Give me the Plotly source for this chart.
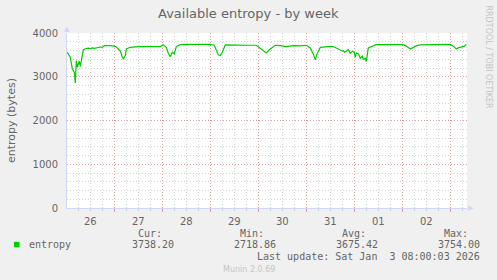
import plotly.graph_objects as go

# ---------------- data ----------------
times = [
    "2025-12-26 00:30", "2025-12-26 01:00", "2025-12-26 02:00", "2025-12-26 03:00", "2025-12-26 04:00",
    "2025-12-26 04:30", "2025-12-26 05:00", "2025-12-26 05:30", "2025-12-26 06:30", "2025-12-26 07:00",
    "2025-12-26 08:00", "2025-12-26 08:30", "2025-12-26 09:30", "2025-12-26 11:00", "2025-12-26 12:00",
    "2025-12-26 13:00", "2025-12-26 14:00", "2025-12-26 15:00", "2025-12-26 17:00", "2025-12-26 18:00",
    "2025-12-26 19:00", "2025-12-26 21:00", "2025-12-26 23:30",
    "2025-12-27 01:00", "2025-12-27 02:00", "2025-12-27 03:00", "2025-12-27 04:00", "2025-12-27 04:30",
    "2025-12-27 05:30", "2025-12-27 06:00", "2025-12-27 08:00", "2025-12-27 10:00", "2025-12-27 12:00",
    "2025-12-27 15:30", "2025-12-27 18:00", "2025-12-27 21:00", "2025-12-27 23:00",
    "2025-12-28 00:30", "2025-12-28 02:00", "2025-12-28 03:00", "2025-12-28 04:00", "2025-12-28 05:00",
    "2025-12-28 06:00", "2025-12-28 07:00", "2025-12-28 09:00", "2025-12-28 12:00", "2025-12-28 16:30",
    "2025-12-28 20:00",
    "2025-12-29 00:00", "2025-12-29 02:00", "2025-12-29 03:00", "2025-12-29 04:00", "2025-12-29 05:00",
    "2025-12-29 06:00", "2025-12-29 07:30", "2025-12-29 11:00", "2025-12-29 15:00", "2025-12-29 19:00",
    "2025-12-29 23:00",
    "2025-12-30 01:30", "2025-12-30 03:00", "2025-12-30 04:00", "2025-12-30 06:00", "2025-12-30 08:30",
    "2025-12-30 11:00", "2025-12-30 14:00", "2025-12-30 17:30", "2025-12-30 21:00",
    "2025-12-31 00:00", "2025-12-31 02:00", "2025-12-31 03:30", "2025-12-31 04:30", "2025-12-31 05:00",
    "2025-12-31 07:00", "2025-12-31 11:00", "2025-12-31 13:30", "2025-12-31 15:00", "2025-12-31 16:00",
    "2025-12-31 17:00", "2025-12-31 18:00", "2025-12-31 18:30", "2025-12-31 19:00", "2025-12-31 20:00",
    "2025-12-31 21:00", "2025-12-31 22:00", "2025-12-31 23:00",
    "2026-01-01 00:00", "2026-01-01 00:30", "2026-01-01 01:00", "2026-01-01 02:00", "2026-01-01 02:30",
    "2026-01-01 03:00", "2026-01-01 04:00", "2026-01-01 04:30", "2026-01-01 05:30", "2026-01-01 06:00",
    "2026-01-01 07:00", "2026-01-01 09:30", "2026-01-01 11:00", "2026-01-01 18:00",
    "2026-01-02 00:30", "2026-01-02 02:00", "2026-01-02 04:00", "2026-01-02 07:00", "2026-01-02 09:00",
    "2026-01-02 16:00",
    "2026-01-03 00:00", "2026-01-03 01:30", "2026-01-03 03:00", "2026-01-03 04:00", "2026-01-03 05:30",
    "2026-01-03 07:00", "2026-01-03 08:00",
]
entropy = [
    3560, 3520, 3445, 3180, 3105,
    2855, 3370, 3220, 3355, 3235,
    3560, 3613, 3640, 3655, 3645,
    3660, 3650, 3665, 3680, 3672,
    3710, 3712, 3705,
    3680, 3640, 3587, 3450, 3410,
    3484, 3636, 3673, 3690, 3690,
    3690, 3695, 3695, 3690,
    3734, 3673, 3536, 3461, 3559,
    3523, 3690, 3734, 3740, 3740,
    3740,
    3740, 3720, 3620, 3500, 3484,
    3560, 3727, 3720, 3725, 3720,
    3720,
    3636, 3580, 3545, 3636, 3720,
    3712, 3690, 3710, 3705,
    3720, 3659, 3523, 3386, 3484,
    3673, 3690, 3690, 3659, 3640,
    3620, 3590, 3600, 3560, 3582,
    3620, 3536, 3580,
    3560, 3445, 3540, 3523, 3480,
    3420, 3470, 3400, 3420, 3349,
    3659, 3711, 3734, 3734,
    3734, 3700, 3636, 3705, 3727,
    3734,
    3740, 3700, 3636, 3660, 3673,
    3700, 3738,
]

x_range = ["2025-12-26 00:21", "2026-01-03 08:21"]
day_label_pos = ["2025-12-26 12:00", "2025-12-27 12:00", "2025-12-28 12:00", "2025-12-29 12:00",
                 "2025-12-30 12:00", "2025-12-31 12:00", "2026-01-01 12:00", "2026-01-02 12:00"]
day_labels = ["26", "27", "28", "29", "30", "31", "01", "02"]
midnights = ["2025-12-27 00:00", "2025-12-28 00:00", "2025-12-29 00:00", "2025-12-30 00:00",
             "2025-12-31 00:00", "2026-01-01 00:00", "2026-01-02 00:00", "2026-01-03 00:00"]
y_ticks = [0, 1000, 2000, 3000, 4000]

series_name = "entropy"
stat_labels = ["Cur:", "Min:", "Avg:", "Max:"]
stat_values = ["3738.20", "2718.86", "3675.42", "3754.00"]
title = "Available entropy - by week"
y_title = "entropy (bytes)"
last_update = "Last update: Sat Jan \u00a03 08:00:03 2026"
watermark = "RRDTOOL / TOBI OETIKER"
footer = "Munin 2.0.69"

# ---------------- style ----------------
W, H = 497, 280
L, R, T, B = 67, 30, 33, 72
GREEN = "#00CC00"
FONT_C = "#666666"
AXIS_C = "#CFD6F8"
MGRID = "rgba(235,110,110,0.55)"
GRID = "rgba(160,160,160,0.45)"
DASH = "1px,2px"
SANS = "DejaVu Sans"
MONO = "DejaVu Sans Mono"


def px(x):
    return (x - L) / (W - L - R)


def py(y):
    return (H - B - y) / (H - T - B)


fig = go.Figure()
fig.add_trace(go.Scatter(x=times, y=entropy, mode="lines", name=series_name,
                         line=dict(color=GREEN, width=1.2), showlegend=False))
# invisible trace on the overlay axis so that its midnight grid is drawn
fig.add_trace(go.Scatter(x=[times[0]], y=[entropy[0]], xaxis="x2", mode="markers",
                         marker=dict(opacity=0), showlegend=False, hoverinfo="skip"))

fig.update_layout(
    width=W, height=H,
    margin=dict(l=L, r=R, t=T, b=B),
    paper_bgcolor="#F0F0F0", plot_bgcolor="#FFFFFF",
    font=dict(family=SANS, color=FONT_C, size=10),
    xaxis=dict(
        range=x_range, tickmode="array", tickvals=day_label_pos, ticktext=day_labels,
        showgrid=False, zeroline=False, ticks="", ticklabelstandoff=4,
        showline=True, linecolor=AXIS_C, linewidth=1,
        tickfont=dict(family=SANS, size=10, color=FONT_C),
        minor=dict(tickmode="linear", tick0="2025-12-26 00:00", dtick=6 * 3600 * 1000,
                   showgrid=True, gridcolor=GRID, griddash=DASH, gridwidth=1,
                   ticks="outside", ticklen=2, tickcolor=GRID),
    ),
    xaxis2=dict(
        range=x_range, overlaying="x", anchor="y", side="bottom",
        tickmode="array", tickvals=midnights, showticklabels=False,
        showgrid=True, gridcolor=MGRID, griddash=DASH, gridwidth=1,
        ticks="outside", ticklen=3, tickcolor=MGRID, zeroline=False, showline=False,
    ),
    yaxis=dict(
        range=[0, 4000], tickmode="array", tickvals=y_ticks,
        showgrid=True, gridcolor=MGRID, griddash=DASH, gridwidth=1,
        zeroline=False, ticks="", ticklabelstandoff=6,
        showline=True, linecolor=AXIS_C, linewidth=1,
        tickfont=dict(family=SANS, size=10, color=FONT_C),
        minor=dict(tickmode="linear", tick0=0, dtick=200, showgrid=True,
                   gridcolor=GRID, griddash=DASH, gridwidth=1),
    ),
)

ann = []
ann.append(dict(text=title, x=px(248), y=py(13.5), font=dict(size=13, color=FONT_C, family=SANS)))
ann.append(dict(text=y_title, x=px(11), y=py(120), textangle=-90,
                font=dict(size=11, color=FONT_C, family=SANS)))
ann.append(dict(text=watermark, x=px(488), y=py(56.5), textangle=90,
                font=dict(size=8, color="#C4C4C4", family=SANS)))
# axis arrows
ann.append(dict(text="\u25B2", x=px(67), y=py(29), font=dict(size=7, color=AXIS_C, family=SANS)))
ann.append(dict(text="\u25B6", x=px(470.5), y=py(208), font=dict(size=7, color=AXIS_C, family=SANS)))
# legend
ann.append(dict(text=series_name, x=px(27), y=py(244.5), xanchor="left",
                font=dict(size=10, color=FONT_C, family=MONO)))
value_right = [175.7, 278.3, 380.0, 482.3]
for lab, val, xr in zip(stat_labels, stat_values, value_right):
    ann.append(dict(text=lab, x=px(xr - 12), y=py(233), xanchor="right",
                    font=dict(size=10, color=FONT_C, family=MONO)))
    ann.append(dict(text=val, x=px(xr), y=py(244.5), xanchor="right",
                    font=dict(size=10, color=FONT_C, family=MONO)))
ann.append(dict(text=last_update, x=px(482.3), y=py(256.5), xanchor="right",
                font=dict(size=10, color=FONT_C, family=MONO)))
ann.append(dict(text=footer, x=px(249), y=py(269.5), font=dict(size=8, color="#C4C4C4", family=SANS)))

for a in ann:
    a.setdefault("xanchor", "center")
    a.update(xref="paper", yref="paper", yanchor="middle", showarrow=False)
fig.update_layout(annotations=ann)

fig.add_shape(type="rect", xref="paper", yref="paper",
              x0=px(14), x1=px(19.5), y0=py(247.3), y1=py(241.8),
              fillcolor=GREEN, line=dict(width=0))

fig.write_html("out.html")
